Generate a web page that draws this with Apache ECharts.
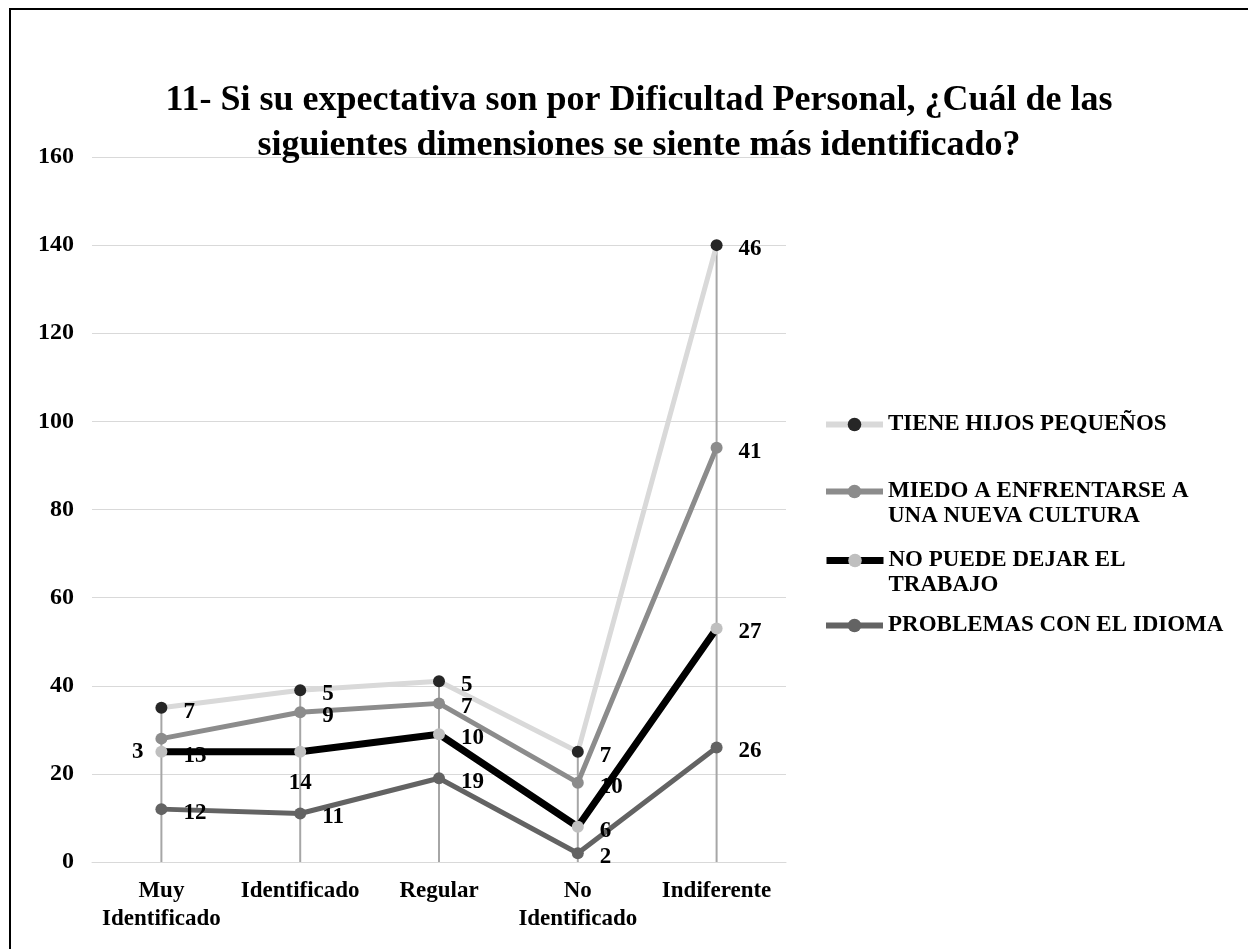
<!DOCTYPE html>
<html>
<head>
<meta charset="utf-8">
<script src="https://cdn.jsdelivr.net/npm/echarts@6/dist/echarts.min.js"></script>
<style>
  html, body { margin: 0; padding: 0; background: #ffffff; }
  .marco {
    position: absolute; left: 9px; top: 8px; width: 1250px; height: 960px;
    border: 2px solid #000000; box-sizing: border-box;
  }
  #main { position: absolute; left: 0; top: 0; width: 1248px; height: 949px; }
</style>
</head>
<body>
<div class="marco"></div>
<div id="main"></div>
<script>
// categorias y valores (serie apilada, de abajo hacia arriba)
var categorias = ['Muy\nIdentificado', 'Identificado', 'Regular', 'No\nIdentificado', 'Indiferente']
var problemasIdioma = [12, 11, 19, 2, 26]
var noPuedeTrabajo = [13, 14, 10, 6, 27]
var miedoCultura = [3, 9, 7, 10, 41]
var hijosPequenos = [7, 5, 5, 7, 46]
var ejeYMin = 0
var ejeYMax = 160
var ejeYPaso = 20

var nombres = {
  hijos: 'TIENE HIJOS PEQUEÑOS',
  miedo: 'MIEDO A ENFRENTARSE A\nUNA NUEVA CULTURA',
  trabajo: 'NO PUEDE DEJAR EL\nTRABAJO',
  idioma: 'PROBLEMAS CON EL IDIOMA'
}

// total de cada categoria (para las lineas de caida)
var totales = categorias.map(function(c, i) {
  return problemasIdioma[i] + noPuedeTrabajo[i] + miedoCultura[i] + hijosPequenos[i]
})

var fuente = '"Liberation Serif", "DejaVu Serif", serif'

function etiqueta(extra) {
  var base = {
    show: true,
    position: 'right',
    distance: 16,
    offset: [0, 4],
    fontFamily: fuente,
    fontWeight: 'bold',
    fontSize: 23,
    color: '#000000'
  }
  return Object.assign(base, extra || {})
}

// arma los datos con etiquetas especiales en algunos puntos
function datos(valores, especiales) {
  return valores.map(function(v, i) {
    if (especiales && especiales[i]) {
      return { value: v, label: especiales[i] }
    }
    return v
  })
}

function serie(nombre, valores, colorLinea, colorPunto, ancho, especiales) {
  return {
    name: nombre,
    type: 'line',
    stack: 'total',
    data: datos(valores, especiales),
    symbol: 'circle',
    symbolSize: 12,
    lineStyle: { color: colorLinea, width: ancho },
    itemStyle: { color: colorPunto },
    label: etiqueta(),
    emphasis: { disabled: true },
    z: 3
  }
}

function leyenda(nombre, top, dosLineas, ancho) {
  return {
    data: [nombre],
    left: 823,
    top: top,
    padding: 0,
    itemWidth: 57,
    itemHeight: 17,
    selectedMode: false,
    lineStyle: { width: ancho },
    // linea vacia arriba para que el icono quede a la altura del primer renglon
    formatter: function(n) {
      return dosLineas ? ' \n' + n : n
    },
    textStyle: {
      fontFamily: fuente,
      fontWeight: 'bold',
      fontSize: 23,
      color: '#000000',
      lineHeight: 25
    }
  }
}

var chart = echarts.init(document.getElementById('main'))
var option = {
  backgroundColor: 'transparent',
  animation: false,
  title: {
    text: '11- Si su expectativa son por Dificultad Personal, ¿Cuál de las\nsiguientes dimensiones se siente más identificado?',
    left: 634,
    textAlign: 'center',
    top: 73,
    textStyle: {
      fontFamily: fuente,
      fontWeight: 'bold',
      fontSize: 36,
      lineHeight: 45,
      color: '#000000'
    }
  },
  legend: [
    leyenda(nombres.hijos, 412, false, 6),
    leyenda(nombres.miedo, 454, true, 6),
    leyenda(nombres.trabajo, 523, true, 7),
    leyenda(nombres.idioma, 613, false, 6)
  ],
  grid: { left: 92, right: 462, top: 157, bottom: 87 },
  xAxis: {
    type: 'category',
    data: categorias,
    boundaryGap: true,
    axisTick: { show: false },
    axisLine: { lineStyle: { color: '#d9d9d9', width: 1 } },
    axisLabel: {
      margin: 15,
      fontFamily: fuente,
      fontWeight: 'bold',
      fontSize: 23,
      lineHeight: 28,
      color: '#000000',
      interval: 0
    }
  },
  yAxis: {
    type: 'value',
    min: ejeYMin,
    max: ejeYMax,
    interval: ejeYPaso,
    axisLine: { show: false },
    axisTick: { show: false },
    splitLine: { lineStyle: { color: '#d9d9d9', width: 1 } },
    axisLabel: {
      margin: 18,
      fontFamily: fuente,
      fontWeight: 'bold',
      fontSize: 24,
      color: '#000000'
    }
  },
  series: [
    {
      name: 'caida',
      type: 'bar',
      data: totales,
      barWidth: 2,
      itemStyle: { color: '#a6a6a6' },
      silent: true,
      z: 1
    },
    serie(nombres.idioma, problemasIdioma, '#636363', '#636363', 5),
    serie(nombres.trabajo, noPuedeTrabajo, '#000000', '#bfbfbf', 7, {
      1: etiqueta({ position: 'bottom', distance: 14, offset: [0, 0] })
    }),
    serie(nombres.miedo, miedoCultura, '#8c8c8c', '#8c8c8c', 5, {
      0: etiqueta({ position: 'left', distance: 12, offset: [0, 13] })
    }),
    serie(nombres.hijos, hijosPequenos, '#d9d9d9', '#262626', 5)
  ]
}
chart.setOption(option)
</script>
</body>
</html>
